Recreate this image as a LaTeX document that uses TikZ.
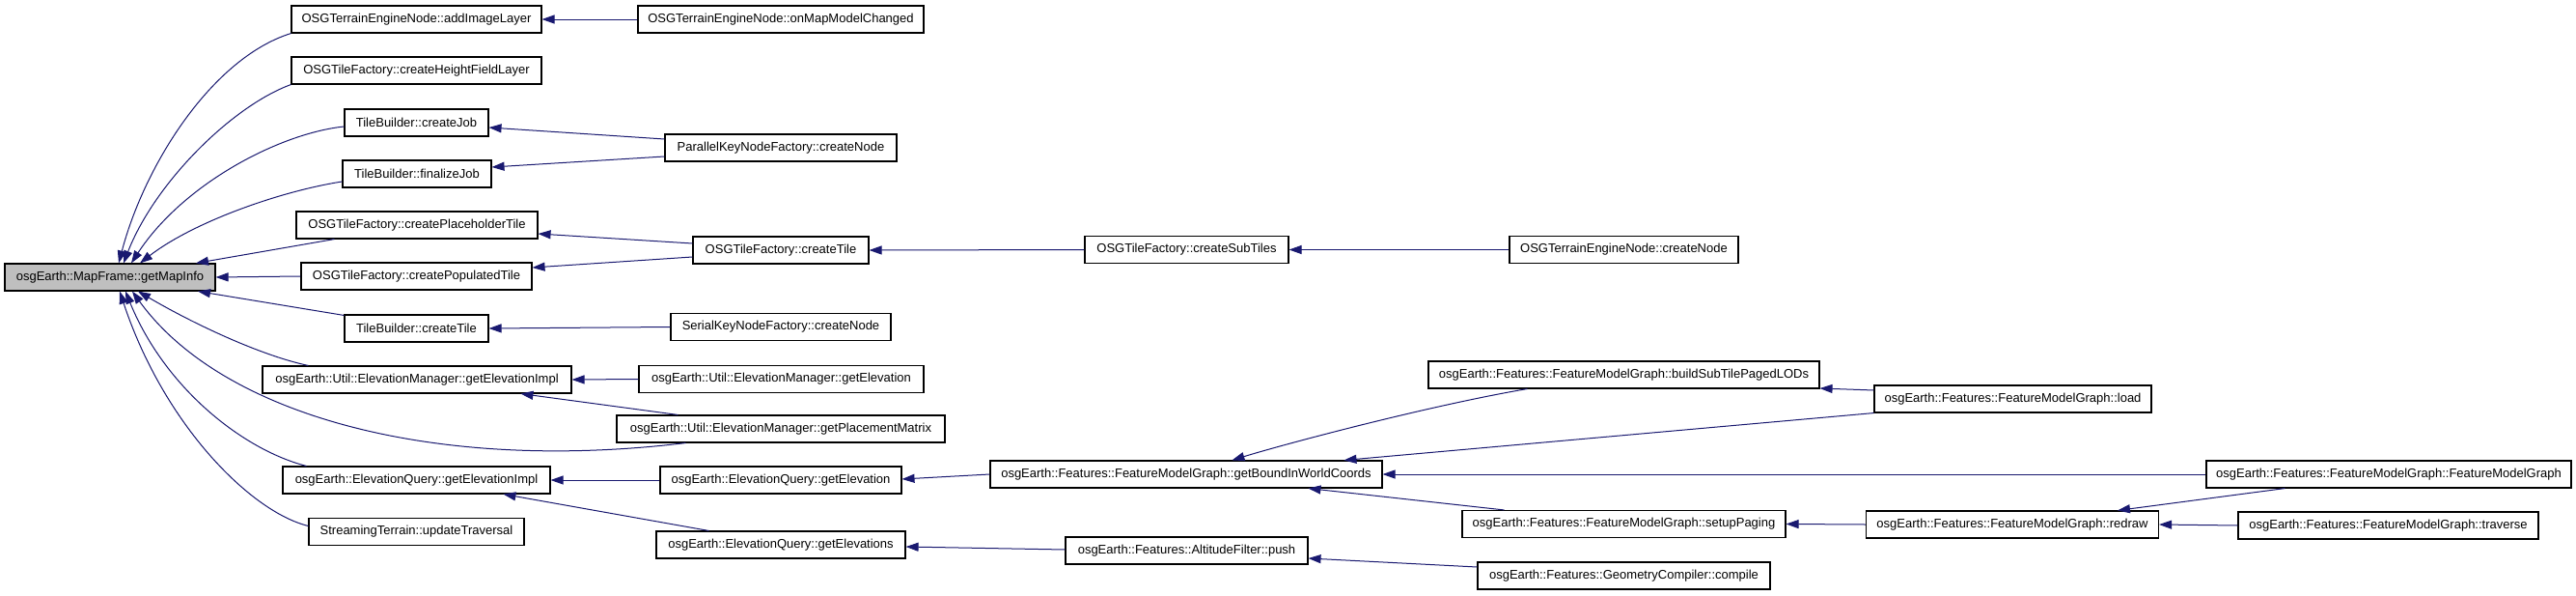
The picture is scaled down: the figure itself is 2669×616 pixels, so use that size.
\documentclass[tikz,border=0pt]{standalone}
\usepackage{fontspec}
\setmainfont{Liberation Sans}
\usetikzlibrary{arrows.meta,calc}
\definecolor{edgec}{HTML}{191970}
\definecolor{maingray}{HTML}{BFBFBF}
\tikzset{
  fn/.style={draw=black, line width=1.1pt, fill=white, inner sep=0pt, minimum height=28pt,
    font=\fontsize{13}{15}\selectfont, anchor=center},
  mainfn/.style={fn, fill=maingray},
  call/.style={draw=edgec, line width=1pt, -{Triangle[length=13pt,width=9pt]}},
}
\begin{document}
\begin{tikzpicture}[x=1pt,y=-1pt]
\fill[white] (0,0) rectangle (2669,616);
\useasboundingbox (0,0) rectangle (2669,616);

% column 1
\node[mainfn, minimum width=218pt] (main) at (114,287) {osgEarth::MapFrame::getMapInfo};
% column 2
\node[fn, minimum width=259pt] (ail) at (431.5,20) {OSGTerrainEngineNode::addImageLayer};
\node[fn, minimum width=259pt] (hfl) at (431.5,73) {OSGTileFactory::createHeightFieldLayer};
\node[fn, minimum width=149pt] (cj) at (431.5,127) {TileBuilder::createJob};
\node[fn, minimum width=154pt] (fj) at (432,180) {TileBuilder::finalizeJob};
\node[fn, minimum width=250pt] (cpt) at (432,233) {OSGTileFactory::createPlaceholderTile};
\node[fn, minimum width=239pt] (cpop) at (431.5,286) {OSGTileFactory::createPopulatedTile};
\node[fn, minimum width=149pt] (tbct) at (431.5,340) {TileBuilder::createTile};
\node[fn, minimum width=320pt] (uei) at (432,393) {osgEarth::Util::ElevationManager::getElevationImpl};
\node[fn, minimum width=277pt] (qei) at (431.5,497) {osgEarth::ElevationQuery::getElevationImpl};
\node[fn, minimum width=223pt] (st) at (431.5,550.5) {StreamingTerrain::updateTraversal};
% column 3
\node[fn, minimum width=296pt] (ommc) at (809,20) {OSGTerrainEngineNode::onMapModelChanged};
\node[fn, minimum width=240pt] (pk) at (809,153) {ParallelKeyNodeFactory::createNode};
\node[fn, minimum width=182pt] (tfct) at (809,259) {OSGTileFactory::createTile};
\node[fn, minimum width=228pt] (sk) at (809,338.5) {SerialKeyNodeFactory::createNode};
\node[fn, minimum width=295pt] (uge) at (809.5,392.5) {osgEarth::Util::ElevationManager::getElevation};
\node[fn, minimum width=340pt] (gpm) at (809,444) {osgEarth::Util::ElevationManager::getPlacementMatrix};
\node[fn, minimum width=250pt] (qge) at (809,497) {osgEarth::ElevationQuery::getElevation};
\node[fn, minimum width=258pt] (qges) at (809,564) {osgEarth::ElevationQuery::getElevations};
% column 4
\node[fn, minimum width=211pt] (cst) at (1229.5,258.5) {OSGTileFactory::createSubTiles};
\node[fn, minimum width=406pt] (gbw) at (1229,491) {osgEarth::Features::FeatureModelGraph::getBoundInWorldCoords};
\node[fn, minimum width=251pt] (push) at (1229.5,570) {osgEarth::Features::AltitudeFilter::push};
% column 5
\node[fn, minimum width=237pt] (tecn) at (1682.5,258.5) {OSGTerrainEngineNode::createNode};
\node[fn, minimum width=405pt] (bst) at (1682.5,388) {osgEarth::Features::FeatureModelGraph::buildSubTilePagedLODs};
\node[fn, minimum width=335pt] (sp) at (1682.5,542.5) {osgEarth::Features::FeatureModelGraph::setupPaging};
\node[fn, minimum width=303pt] (cmp) at (1682.5,596) {osgEarth::Features::GeometryCompiler::compile};
% column 6
\node[fn, minimum width=287pt] (load) at (2085.5,413) {osgEarth::Features::FeatureModelGraph::load};
\node[fn, minimum width=303pt] (redraw) at (2085,543) {osgEarth::Features::FeatureModelGraph::redraw};
% column 7
\node[fn, minimum width=378pt] (fmg) at (2475,491) {osgEarth::Features::FeatureModelGraph::FeatureModelGraph};
\node[fn, minimum width=311pt] (trv) at (2474.5,544) {osgEarth::Features::FeatureModelGraph::traverse};

% edges into main
\draw[call] (ail.south west) .. controls (220,60) and (150,170) .. ($(main.north)+(9,0)$);
\draw[call] (hfl.south west) .. controls (240,110) and (160,190) .. ($(main.north)+(14,0)$);
\draw[call] ($(cj.west)+(0,4)$) .. controls (290,138) and (190,190) .. ($(main.north)+(22,0)$);
\draw[call] ($(fj.west)+(0,8)$) .. controls (290,198) and (200,230) .. ($(main.north)+(31,0)$);
\draw[call] ($(cpt.south west)+(40,0)$) -- ($(main.north)+(89,0)$);
\draw[call] (cpop.west) -- (main.east);
\draw[call] ($(tbct.north west)+(0,1)$) -- ($(main.south)+(91,0)$);
\draw[call] ($(uei.north west)+(48,0)$) .. controls (270,368) and (200,335) .. ($(main.south)+(29,0)$);
\draw[call] ($(gpm.south west)+(72,0)$) .. controls (450,490) and (230,430) .. ($(main.south)+(23,0)$);
\draw[call] ($(qei.north west)+(25,0)$) .. controls (250,465) and (170,400) .. ($(main.south)+(16,0)$);
\draw[call] ($(st.west)+(0,-6)$) .. controls (260,530) and (170,440) .. ($(main.south)+(10,0)$);

% other edges
\draw[call] (ommc.west) -- (ail.east);
\draw[call] ($(pk.west)+(0,-9)$) -- ($(cj.east)+(0,5)$);
\draw[call] ($(pk.west)+(0,9)$) -- ($(fj.east)+(0,-7)$);
\draw[call] ($(tfct.west)+(0,-7)$) -- ($(cpt.east)+(0,9)$);
\draw[call] ($(tfct.west)+(0,7)$) -- ($(cpop.east)+(0,-9)$);
\draw[call] (cst.west) -- (tfct.east);
\draw[call] (tecn.west) -- (cst.east);
\draw[call] (sk.west) -- (tbct.east);
\draw[call] (uge.west) -- (uei.east);
\draw[call] ($(gpm.north west)+(64,0)$) -- ($(uei.south west)+(268,0)$);
\draw[call] (qge.west) -- (qei.east);
\draw[call] ($(qges.north west)+(55,0)$) -- ($(qei.south west)+(229,0)$);
\draw[call] (gbw.west) -- ($(qge.east)+(0,-1)$);
\draw[call] ($(push.west)+(0,-1)$) -- ($(qges.east)+(0,2)$);
\draw[call] ($(bst.south west)+(103,0)$) .. controls (1480,420) and (1330,460) .. ($(gbw.north west)+(251,0)$);
\draw[call] (load.south west) -- ($(gbw.north west)+(367,0)$);
\draw[call] (fmg.west) -- (gbw.east);
\draw[call] ($(sp.north west)+(44,0)$) -- ($(gbw.south west)+(330,0)$);
\draw[call] ($(load.west)+(0,-9)$) -- ($(bst.east)+(0,14)$);
\draw[call] (redraw.west) -- (sp.east);
\draw[call] ($(fmg.south west)+(82,0)$) -- ($(redraw.north west)+(261,0)$);
\draw[call] (trv.west) -- (redraw.east);
\draw[call] ($(cmp.west)+(0,-9)$) -- ($(push.east)+(0,8)$);
\end{tikzpicture}
\end{document}
